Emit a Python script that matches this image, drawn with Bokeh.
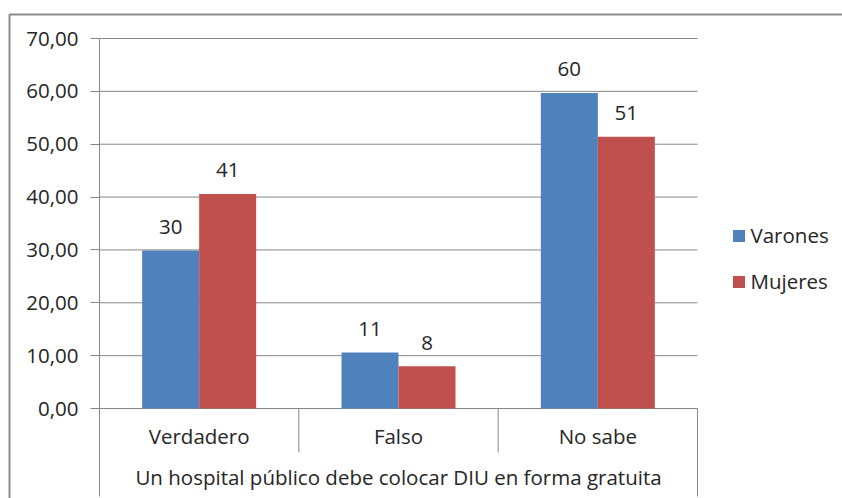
from bokeh.plotting import figure
from bokeh.models import Range1d, FixedTicker, ColumnDataSource, Legend, LegendItem
from bokeh.core.properties import value
from bokeh.embed import file_html
from bokeh.resources import INLINE

# ---------------- data ----------------
categories = ["Verdadero", "Falso", "No sabe"]
group_label = "Un hospital público debe colocar DIU en forma gratuita"
series_names = ["Varones", "Mujeres"]
varones = [29.9, 10.6, 59.7]
mujeres = [40.6, 8.0, 51.4]
y_ticks = [0, 10, 20, 30, 40, 50, 60, 70]
y_tick_labels = ["0,00", "10,00", "20,00", "30,00", "40,00", "50,00", "60,00", "70,00"]

# ---------------- style ----------------
FONT = "Open Sans"
FS = "20.5px"
TXT = "#262626"
GRID = "#878787"
BORDER = "#8c8c8c"
COLORS = ["#4F81BD", "#C0504D"]

# layout in canvas pixels
W, H = 842, 498
X0, Y0 = 99, 408           # canvas position of the data origin (x=0, y=0)
VALUE_H = 370              # pixel height of the 0..70 value area
CAT_W = 598 / 3            # pixel width of one category
BAR_PX = 57
DIV_PX = 44                # length of the inner category separators
BAND_PX = 88               # length of the outer separators
Y_MAX = y_ticks[-1]
u = Y_MAX / VALUE_H        # data units per pixel (y)
n = len(categories)


def xd(px):
    return (px - X0) / CAT_W


def yd(py):
    return (Y0 - py) * u


p = figure(width=W, height=H, output_backend="svg", toolbar_location=None,
           x_range=Range1d(xd(0), xd(W)), y_range=Range1d(yd(H), yd(0)),
           min_border=0, min_border_left=0, min_border_right=0,
           min_border_top=0, min_border_bottom=0)
p.outline_line_color = None
p.xaxis.visible = False
p.xgrid.visible = False
p.ygrid.visible = False

# y axis, drawn at x = 0 inside the frame
ya = p.yaxis[0]
ya.fixed_location = 0
ya.bounds = (-BAND_PX * u, Y_MAX)
ya.ticker = FixedTicker(ticks=y_ticks)
ya.major_label_overrides = {t: s for t, s in zip(y_ticks, y_tick_labels)}
ya.axis_line_color = GRID
ya.major_tick_line_color = GRID
ya.major_tick_out = 9
ya.major_tick_in = 0
ya.minor_tick_line_color = None
ya.major_label_standoff = 12
ya.major_label_text_font = FONT
ya.major_label_text_font_size = FS
ya.major_label_text_color = TXT

# horizontal grid lines across the category area
p.segment(x0=[0] * len(y_ticks), y0=y_ticks, x1=[n] * len(y_ticks), y1=y_ticks,
          line_color=GRID, line_width=1)

# bars
bw = BAR_PX / CAT_W
renderers = []
for k, (name, vals) in enumerate(zip(series_names, [varones, mujeres])):
    off = (k - 0.5) * bw
    xs = [i + 0.5 + off for i in range(n)]
    src = ColumnDataSource(dict(x=xs, top=vals,
                                lab=[str(int(v + 0.5)) for v in vals]))
    r = p.vbar(x="x", top="top", bottom=0, width=bw, source=src,
               fill_color=COLORS[k], line_color=None)
    renderers.append(r)
    p.text(x="x", y="top", text="lab", source=src, y_offset=-23.5,
           text_align="center", text_baseline="alphabetic",
           text_font=value(FONT), text_font_size=FS, text_color=TXT)

# category axis (two levels)
p.text(x=[i + 0.5 for i in range(n)], y=[0] * n, text=categories, y_offset=27.5,
       text_align="center", text_baseline="alphabetic",
       text_font=value(FONT), text_font_size=FS, text_color=TXT)
p.text(x=[n / 2], y=[0], text=[group_label], y_offset=68.5,
       text_align="center", text_baseline="alphabetic",
       text_font=value(FONT), text_font_size=FS, text_color=TXT)
inner = list(range(1, n))
p.segment(x0=inner, y0=[0] * len(inner), x1=inner, y1=[-DIV_PX * u] * len(inner),
          line_color=GRID, line_width=1)
p.segment(x0=[n], y0=[0], x1=[n], y1=[-BAND_PX * u], line_color=GRID, line_width=1)

# chart-area border (left and top edges; the rest lies outside the picture)
p.line(x=[xd(9), xd(9), xd(W)], y=[yd(H), yd(14), yd(14)],
       line_color=BORDER, line_width=2)

legend = Legend(items=[LegendItem(label=s, renderers=[r]) for s, r in zip(series_names, renderers)],
                location=(730.5, 203), orientation="vertical",
                glyph_width=15, glyph_height=15, label_standoff=5,
                spacing=18, padding=0, margin=0,
                border_line_color=None, background_fill_alpha=0,
                label_text_font=FONT, label_text_font_size=FS, label_text_color=TXT)
p.add_layout(legend)

open("out.html", "w").write(file_html(p, INLINE))
